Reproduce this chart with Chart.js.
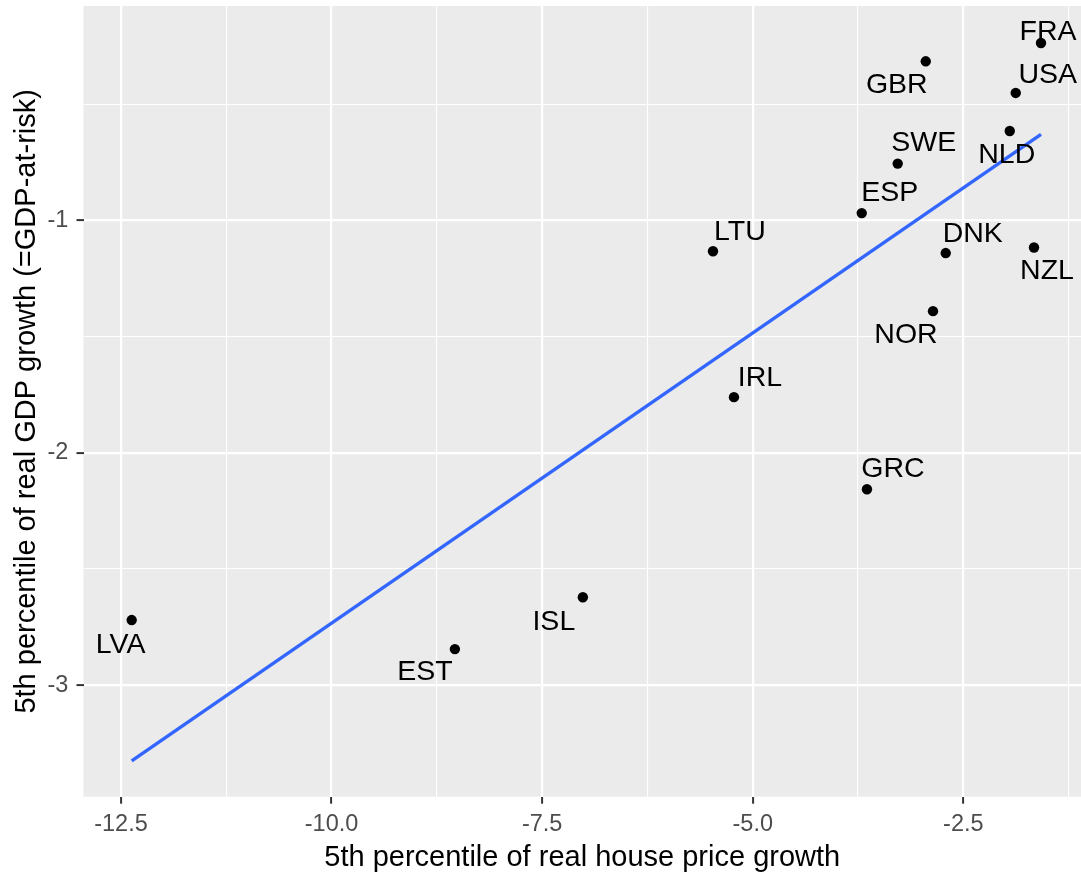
<!DOCTYPE html>
<html>
<head>
<meta charset="utf-8">
<script src="https://cdn.jsdelivr.net/npm/chart.js@4/dist/chart.umd.min.js"></script>
<style>
  html, body { margin: 0; padding: 0; background: #fff; }
  canvas { display: block; }
</style>
</head>
<body>
<canvas id="chart" width="1081" height="877"></canvas>
<script>
// country codes with their 5th-percentile outcomes
const countries = ["FRA", "GBR", "USA", "NLD", "SWE", "ESP", "DNK", "NZL",
                   "LTU", "NOR", "IRL", "GRC", "ISL", "EST", "LVA"];
const houseGrowth = [-1.578, -2.946, -1.878, -1.949, -3.279, -3.706, -2.709, -1.661,
                     -5.472, -2.860, -5.223, -3.644, -7.017, -8.536, -12.373];
const gdpAtRisk = [-0.237, -0.316, -0.452, -0.616, -0.756, -0.969, -1.141, -1.117,
                   -1.133, -1.391, -1.761, -2.157, -2.622, -2.845, -2.720];

// linear fit, end points
const fitX = [-12.373, -1.578];
const fitY = [-3.326, -0.630];

const xTicks = [-12.5, -10, -7.5, -5, -2.5];
const xTickLabels = ["-12.5", "-10.0", "-7.5", "-5.0", "-2.5"];
const xMinor = [-11.25, -8.75, -6.25, -3.75, -1.25];
const yTicks = [-3, -2, -1];
const yTickLabels = ["-3", "-2", "-1"];
const yMinor = [-2.5, -1.5, -0.5];

// text label nudges in pixels (dx, dy) from each point
const labelNudge = [[7, -11], [-29, 24], [32, -18], [-3, 24], [26, -20], [28, -20],
                    [27, -19], [13, 24], [27, -19], [-27, 24], [26, -19], [26, -20],
                    [-29, 25], [-30, 23], [-11, 25]];

const FONT = "'Liberation Sans', Arial, sans-serif";
const PANEL = "#EBEBEB";

const panelBg = {
  id: "panelBg",
  beforeDraw(chart) {
    const { ctx, chartArea: a } = chart;
    ctx.save();
    ctx.fillStyle = PANEL;
    ctx.fillRect(a.left, a.top, a.right - a.left, a.bottom - a.top);
    ctx.restore();
  }
};

const pointLabels = {
  id: "pointLabels",
  afterDatasetsDraw(chart) {
    const { ctx, scales } = chart;
    ctx.save();
    ctx.font = "28.5px " + FONT;
    ctx.fillStyle = "#000";
    ctx.textAlign = "center";
    ctx.textBaseline = "middle";
    countries.forEach((c, i) => {
      const px = scales.x.getPixelForValue(houseGrowth[i]) + labelNudge[i][0];
      const py = scales.y.getPixelForValue(gdpAtRisk[i]) + labelNudge[i][1];
      ctx.fillText(c, px, py);
    });
    ctx.restore();
  }
};

function axisTicks(majors, minors) {
  return scale => {
    scale.ticks = majors.concat(minors).sort((a, b) => a - b).map(v => ({ value: v }));
  };
}

function gridOpts(minors) {
  return {
    color: "#FFFFFF",
    lineWidth: c => minors.includes(c.tick && c.tick.value) ? 1.1 : 2.2,
    tickColor: c => minors.includes(c.tick && c.tick.value) ? "rgba(0,0,0,0)" : "#333333",
    tickWidth: 2,
    tickLength: 7,
    drawTicks: true
  };
}

new Chart(document.getElementById("chart").getContext("2d"), {
  type: "scatter",
  data: {
    datasets: [
      {
        label: "countries",
        data: houseGrowth.map((x, i) => ({ x: x, y: gdpAtRisk[i] })),
        pointRadius: 5.2,
        pointBackgroundColor: "#000",
        pointBorderWidth: 0,
        order: 2
      },
      {
        label: "fit",
        data: fitX.map((x, i) => ({ x: x, y: fitY[i] })),
        showLine: true,
        borderColor: "#3366FF",
        borderWidth: 3.4,
        pointRadius: 0,
        order: 1
      }
    ]
  },
  options: {
    responsive: false,
    animation: false,
    layout: { autoPadding: false, padding: { top: 6, left: 0, right: 0, bottom: 0 } },
    plugins: {
      legend: { display: false },
      tooltip: { enabled: false }
    },
    scales: {
      x: {
        type: "linear",
        min: -12.945,
        max: -1.103,
        afterBuildTicks: axisTicks(xTicks, xMinor),
        afterFit: s => { s.height = 80.3; s.paddingLeft = 0; s.paddingRight = 0; },
        grid: gridOpts(xMinor),
        border: { display: false },
        ticks: {
          autoSkip: false,
          maxRotation: 0,
          padding: 7,
          color: "#4D4D4D",
          font: { family: FONT, size: 23.5 },
          callback: v => {
            const k = xTicks.indexOf(v);
            return k >= 0 ? xTickLabels[k] : "";
          }
        },
        title: {
          display: true,
          text: "5th percentile of real house price growth",
          color: "#000",
          font: { family: FONT, size: 29, lineHeight: 1.2 },
          padding: { top: 0, bottom: 1.3 }
        }
      },
      y: {
        type: "linear",
        min: -3.48,
        max: -0.078,
        afterBuildTicks: axisTicks(yTicks, yMinor),
        afterFit: s => { s.width = 83.5; s.paddingTop = 0; s.paddingBottom = 0; },
        grid: gridOpts(yMinor),
        border: { display: false },
        ticks: {
          autoSkip: false,
          padding: 8.2,
          color: "#4D4D4D",
          font: { family: FONT, size: 23.5 },
          callback: v => {
            const k = yTicks.indexOf(v);
            return k >= 0 ? yTickLabels[k] : "";
          }
        },
        title: {
          display: true,
          text: "5th percentile of real GDP growth (=GDP-at-risk)",
          color: "#000",
          font: { family: FONT, size: 29, lineHeight: 1.2 },
          padding: { top: 9.9, bottom: 0 }
        }
      }
    }
  },
  plugins: [panelBg, pointLabels]
});
</script>
</body>
</html>
